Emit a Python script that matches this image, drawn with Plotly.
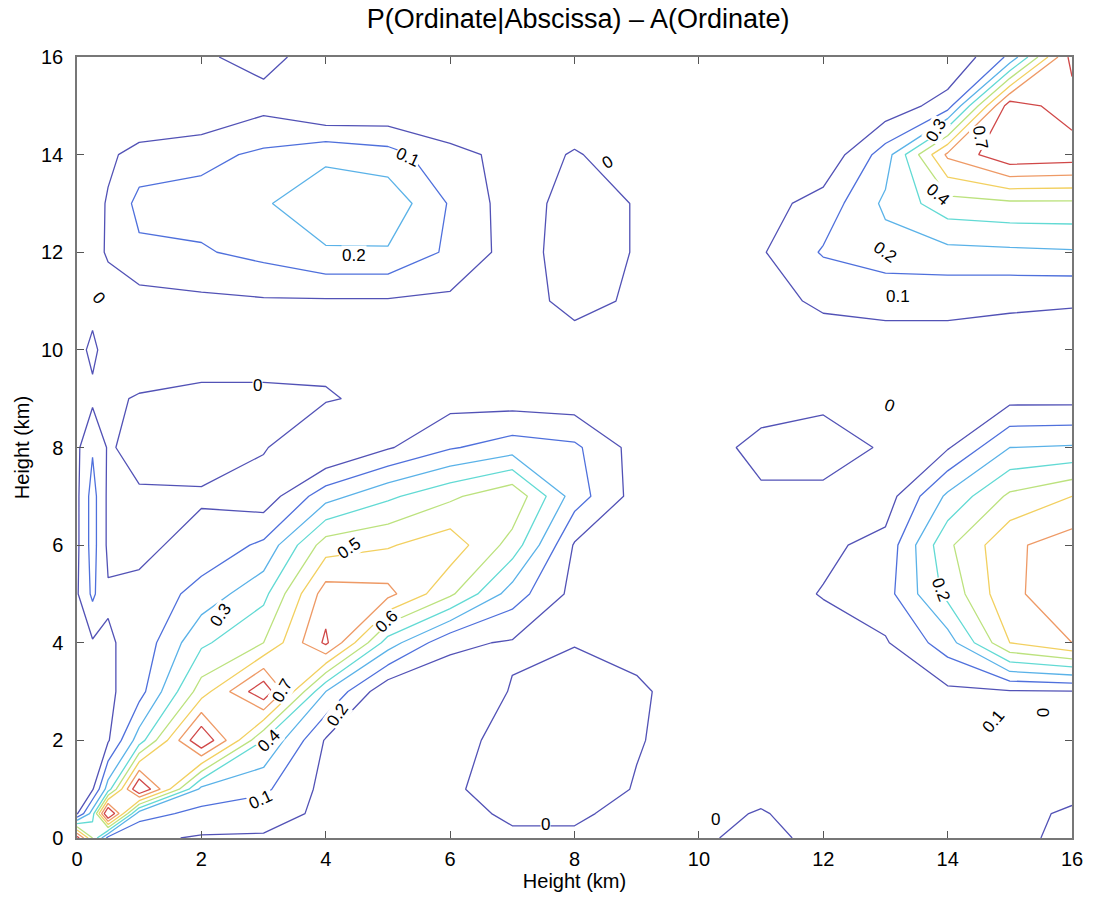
import plotly.graph_objects as go

# Grid coordinates (km); finer steps near the origin
x_km = [0, 0.25, 0.5, 1, 2, 3, 4, 5, 6, 7, 8, 9, 10, 11, 12, 13, 14, 15, 16]
y_km = [0, 0.5, 1, 2, 3, 4, 5, 6, 7, 8, 9, 10, 11, 12, 13, 14, 15, 16]

# Field values, one row per ordinate height (y_km), columns follow x_km
row_00  = [0.75, 0.40, 0.06, 0.02, -0.01, -0.01, -0.02, -0.03, -0.02, -0.01, -0.01, -0.02, -0.01, 0.02, -0.02, -0.03, -0.03, -0.02, 0.02]
row_0p5 = [-0.01, 0.25, 0.85, 0.14, 0.07, 0.04, -0.02, -0.03, -0.02, 0.01, 0.01, -0.02, -0.02, 0.005, -0.03, -0.03, -0.03, -0.02, 0.01]
row_01  = [-0.02, -0.01, 0.25, 0.82, 0.17, 0.12, -0.03, -0.04, -0.01, 0.03, 0.04, -0.005, -0.03, -0.02, -0.03, -0.04, -0.04, -0.03, -0.02]
row_02  = [-0.03, -0.02, -0.01, 0.25, 0.80, 0.30, -0.01, -0.04, -0.03, 0.03, 0.05, 0.005, -0.03, -0.03, -0.03, -0.04, -0.03, -0.03, -0.03]
row_03  = [-0.03, -0.02, -0.02, 0.06, 0.45, 0.78, 0.20, -0.08, -0.06, 0.005, 0.05, 0.01, -0.03, -0.04, -0.05, -0.04, -0.02, -0.01, -0.005]
row_04  = [-0.02, -0.01, -0.01, 0.03, 0.28, 0.40, 0.72, 0.25, 0.02, -0.01, -0.005, -0.02, -0.03, -0.04, -0.04, -0.01, 0.15, 0.50, 0.60]
row_05  = [-0.01, 0.12, 0.01, 0.02, 0.14, 0.27, 0.65, 0.63, 0.42, 0.15, -0.03, -0.04, -0.04, -0.04, 0.005, 0.06, 0.33, 0.58, 0.66]
row_06  = [-0.02, 0.14, -0.02, -0.02, 0.03, 0.12, 0.45, 0.49, 0.56, 0.36, -0.01, -0.05, -0.05, -0.03, -0.02, 0.03, 0.38, 0.58, 0.65]
row_07  = [-0.02, 0.14, -0.02, -0.01, -0.01, -0.06, 0.16, 0.28, 0.38, 0.48, 0.15, -0.04, -0.04, -0.01, -0.02, -0.05, 0.22, 0.42, 0.50]
row_08  = [-0.02, 0.09, -0.01, 0.03, 0.04, 0.01, -0.12, -0.01, 0.09, 0.15, 0.12, -0.04, -0.03, 0.02, 0.04, -0.01, -0.01, 0.20, 0.21]
row_09  = [-0.03, -0.02, -0.01, 0.005, 0.02, 0.02, 0.01, -0.03, -0.04, -0.05, -0.06, -0.05, -0.04, -0.03, -0.02, -0.04, -0.05, -0.03, -0.03]
row_10  = [-0.03, 0.02, -0.04, -0.04, -0.04, -0.04, -0.03, -0.04, -0.04, -0.04, -0.03, -0.04, -0.05, -0.04, -0.03, -0.03, -0.03, -0.03, -0.03]
row_11  = [-0.05, -0.03, -0.04, -0.04, -0.02, -0.01, -0.01, -0.01, -0.02, -0.03, 0.02, -0.01, -0.03, -0.02, 0.01, 0.02, 0.02, 0.01, 0.005]
row_12  = [-0.08, -0.03, 0.01, 0.08, 0.09, 0.13, 0.19, 0.19, 0.08, -0.04, 0.04, -0.005, -0.03, -0.01, 0.11, 0.16, 0.17, 0.18, 0.19]
row_13  = [-0.10, -0.04, 0.01, 0.13, 0.14, 0.19, 0.26, 0.27, 0.09, -0.05, 0.04, -0.005, -0.03, -0.04, 0.04, 0.22, 0.36, 0.38, 0.38]
row_14  = [-0.08, -0.05, -0.02, 0.04, 0.07, 0.12, 0.18, 0.14, 0.03, -0.03, 0.005, -0.03, -0.04, -0.04, -0.08, 0.15, 0.62, 0.78, 0.76]
row_15  = [-0.05, -0.08, -0.08, -0.12, -0.10, -0.03, -0.12, -0.10, -0.10, -0.05, -0.04, -0.04, -0.04, -0.05, -0.06, -0.07, 0.05, 0.76, 0.64]
row_16  = [-0.05, -0.05, -0.05, -0.04, -0.01, 0.025, -0.04, -0.05, -0.05, -0.05, -0.05, -0.05, -0.05, -0.05, -0.05, -0.06, -0.10, 0.12, 0.74]

z_rows = [row_00, row_0p5, row_01, row_02, row_03, row_04, row_05, row_06, row_07, row_08,
          row_09, row_10, row_11, row_12, row_13, row_14, row_15, row_16]

# Contour levels and their line colours (jet-like)
levels = [0.0, 0.1, 0.2, 0.3, 0.4, 0.5, 0.6, 0.7]
level_colors = ['#5252b6', '#4f70dc', '#5ab2e8', '#62dad4', '#bce27e', '#f2d060', '#ee9a66', '#d04848']

# Contour label texts and where they sit (as in the original figure): text, x, y, angle
label_text  = ['0.1', '0.2', '0', '0', '0', '0', '0.5', '0.3', '0.6', '0.7', '0.4', '0.2', '0.1',
               '0', '0', '0.2', '0.1', '0', '0.3', '0.7', '0.4', '0.2', '0.1']
label_x     = [5.33, 4.45, 0.34, 8.53, 2.9, 13.06, 4.37, 2.32, 4.98, 3.3, 3.09, 4.2, 2.96,
               7.54, 10.26, 13.9, 14.74, 15.54, 13.81, 14.53, 13.84, 13.0, 13.2]
label_y     = [13.95, 11.93, 11.07, 13.83, 9.28, 8.87, 5.94, 4.57, 4.43, 3.03, 2.0, 2.52, 0.78,
               0.27, 0.37, 5.08, 2.38, 2.58, 14.5, 14.36, 13.18, 11.99, 11.1]
label_angle = [25, 0, 50, -30, 0, 20, -35, -55, -45, -60, -45, -55, -25,
               0, 0, 70, -50, 90, -60, 80, 40, 35, 0]

font_family = "Liberation Sans, Arial, Helvetica, sans-serif"

fig = go.Figure()
for lv, col in zip(levels, level_colors):
    fig.add_trace(go.Contour(
        x=x_km, y=y_km, z=z_rows,
        autocontour=False,
        contours=dict(start=lv, end=lv, size=0.1, coloring='none', showlabels=False),
        line=dict(width=1.3, smoothing=0, color=col),
        showscale=False, hoverinfo='skip'))

for t, lx, ly, ang in zip(label_text, label_x, label_y, label_angle):
    fig.add_annotation(x=lx, y=ly, xref='x', yref='y', text=t, showarrow=False,
                       textangle=ang, bgcolor='white', borderpad=0,
                       font=dict(size=17, color='black', family=font_family))

axis_common = dict(range=[0, 16], dtick=2, tick0=0, ticks='inside', ticklen=7,
                   tickcolor='#555555', showline=True, linecolor='#777777', linewidth=1.5,
                   mirror='ticks', showgrid=False, zeroline=False,
                   tickfont=dict(size=20, color='black', family=font_family))

fig.update_layout(
    width=1095, height=907,
    margin=dict(l=77, r=18, t=57, b=69),
    paper_bgcolor='white', plot_bgcolor='white',
    title=dict(text='P(Ordinate|Abscissa) – A(Ordinate)', x=0.528, xanchor='center',
               y=0.979, yanchor='middle',
               font=dict(size=27, color='black', family=font_family)),
    xaxis=dict(axis_common, ticklabelstandoff=2,
               title=dict(text='Height (km)', standoff=4,
                          font=dict(size=20, color='black', family=font_family))),
    yaxis=dict(axis_common, ticklabelstandoff=8,
               title=dict(text='Height (km)', standoff=6,
                          font=dict(size=20, color='black', family=font_family))),
    showlegend=False,
)

fig.write_html("out.html")
